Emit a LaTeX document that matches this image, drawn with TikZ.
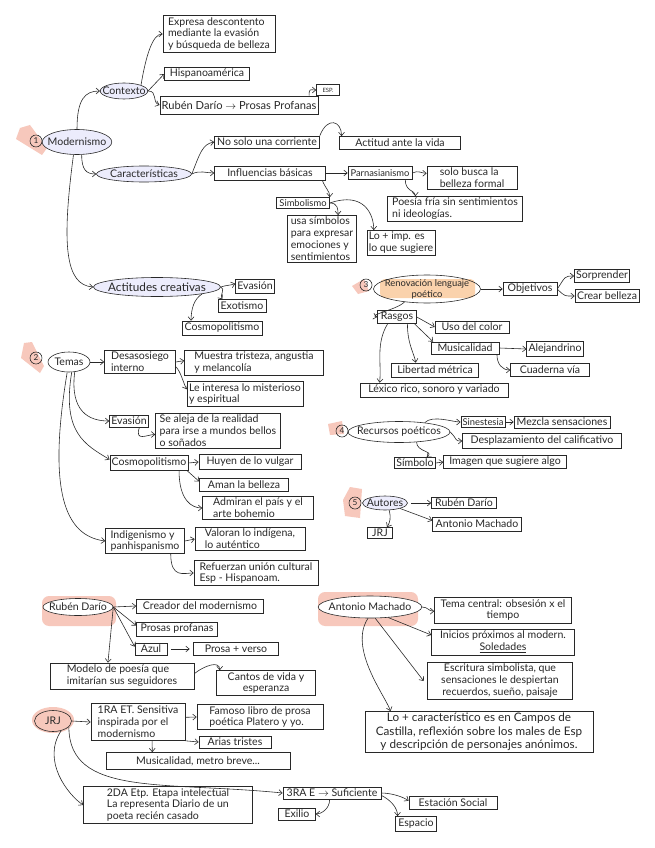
\documentclass[tikz,border=0pt]{standalone}
\usepackage{fontspec}
\setmainfont{Lato}
\usepackage{tikz}
\usetikzlibrary{arrows.meta,shapes.geometric}
\definecolor{rosa}{RGB}{247,200,188}
\definecolor{naranja}{RGB}{250,210,172}
\definecolor{lila}{RGB}{236,236,252}
\definecolor{tinta}{RGB}{40,40,40}

\begin{document}
\begin{tikzpicture}[
    x=0.03cm, y=-0.03cm,
    color=tinta, line width=0.5pt,
    font=\fontsize{9}{10.2}\selectfont,
    caja/.style 2 args={rectangle, draw, inner sep=1.5pt, align=left,
      minimum width=#1*0.03cm, minimum height=#2*0.03cm},
    burbuja/.style 2 args={ellipse, draw, fill=lila, inner xsep=-4pt, inner ysep=0pt,
      align=center, minimum width=#1*0.03cm, minimum height=#2*0.03cm},
    num/.style={circle, draw, inner sep=0pt, minimum size=0.36cm, font=\scriptsize},
    >={Straight Barb[length=3pt,width=5pt]}
  ]
  \fill[white] (0,0) rectangle (655,848);

  \fill[rosa] (20,128) -- (30,125) -- (47,148) -- (42,155) -- (16,139) -- cycle;
  \fill[rosa] (24,343) -- (32,342) -- (44,366) -- (40,373) -- (21,358) -- cycle;
  \fill[rosa] (352,286) -- (364,279) -- (369,291) -- (358,294) -- cycle;
  \fill[rosa] (328,424) -- (342,421) -- (344,434) -- (330,435) -- cycle;
  \fill[rosa] (350,487) -- (362,489) -- (360,518) -- (345,516) -- (343,500) -- cycle;
  \fill[rosa, rounded corners=6] (42,596) rectangle (116,626);
  \fill[rosa, rounded corners=6] (318,592) rectangle (418,626);
  \fill[rosa] (53,720) ellipse [x radius=21, y radius=13];
  \fill[naranja, rounded corners=4] (380,279) rectangle (475,298);

  \node[num] (uno) at (36,141) {1};
  \node[burbuja={62}{25}] (modernismo) at (77,142) {Modernismo};
  \node[burbuja={46}{16}] (contexto) at (124,91) {Contexto};
  \node[caja={112}{36}] (expresa) at (219,34) {Expresa descontento\\mediante la evasión\\y búsqueda de belleza};
  \node[caja={85}{12}] (hispano) at (207,74) {Hispanoamérica};
  \node[caja={149}{18}, font=\fontsize{9.5}{11}\selectfont] (profanas) at (239,105) {Rubén Darío $\rightarrow$ Prosas Profanas};
  \node[caja={23}{11}, font=\tiny] (esp) at (328,90) {ESP.};
  \node[burbuja={95}{16}] (caracteristicas) at (144,174) {Características};
  \node[caja={105}{12}] (nosolo) at (267,142) {No solo una corriente};
  \node[caja={121}{13}] (actitud) at (400,143) {Actitud ante la vida};
  \node[caja={111}{14}] (influencias) at (270,173) {Influencias básicas};
  \node[caja={64}{13}, font=\footnotesize] (parnaso) at (380,173) {Parnasianismo};
  \node[caja={90}{23}] (formal) at (472,178) {solo busca la\\belleza formal};
  \node[caja={135}{20}] (fria) at (455,209) {Poesía fría sin sentimientos\\ni ideologías.};
  \node[caja={53}{11}, font=\footnotesize] (simbolismo) at (303,203) {Simbolismo};
  \node[caja={69}{44}] (simbolos) at (322,239) {usa símbolos\\para expresar\\emociones y\\sentimientos};
  \node[caja={67}{23}] (sugiere) at (401,243) {Lo + imp. es\\lo que sugiere};
  \node[burbuja={127}{19}, font=\fontsize{10}{11}\selectfont] (actitudes) at (157,287) {Actitudes creativas};
  \node[caja={39}{14}] (evasionA) at (255,286) {Evasión};
  \node[caja={48}{13}] (exotismo) at (242,306) {Exotismo};
  \node[caja={80}{14}] (cosmoA) at (222,328) {Cosmopolitismo};

  \node[num] (tres) at (366,285) {3};
  \node[burbuja={107}{28}, fill=none, font=\footnotesize] (renovacion) at (427,289) {Renovación lenguaje\\poético};
  \node[caja={54}{12}] (objetivos) at (530,289) {Objetivos};
  \node[caja={50}{13}] (sorprender) at (602,276) {Sorprender};
  \node[caja={64}{13}] (crear) at (607,296) {Crear belleza};
  \node[caja={39}{12}] (rasgos) at (397,317) {Rasgos};
  \node[caja={74}{12}] (color) at (472,327) {Uso del color};
  \node[caja={68}{12}] (musica) at (465,348) {Musicalidad};
  \node[caja={56}{15}] (alejandrino) at (555,349) {Alejandrino};
  \node[caja={79}{13}] (cuaderna) at (550,370) {Cuaderna vía};
  \node[caja={87}{14}] (libertad) at (435,370) {Libertad métrica};
  \node[caja={148}{14}] (lexico) at (434,390) {Léxico rico, sonoro y variado};

  \node[num] (dos) at (36,358) {2};
  \node[burbuja={42}{20}, fill=white] (temas) at (69,362) {Temas};
  \node[caja={71}{23}] (desasosiego) at (140,362) {Desasosiego\\interno};
  \node[caja={139}{23}] (tristeza) at (254,363) {Muestra tristeza, angustia\\y melancolía};
  \node[caja={116}{24}] (misterio) at (245,394) {Le interesa lo misterioso\\y espiritual};
  \node[caja={39}{12}] (evasionB) at (129,421) {Evasión};
  \node[caja={125}{33}] (aleja) at (218,431) {Se aleja de la realidad\\para irse a mundos bellos\\o soñados};
  \node[caja={78}{15}] (cosmoB) at (149,463) {Cosmopolitismo};
  \node[caja={102}{15}] (vulgar) at (250,462) {Huyen de lo vulgar};
  \node[caja={89}{13}] (belleza) at (244,485) {Aman la belleza};
  \node[caja={111}{20}] (bohemio) at (258,508) {Admiran el país y el\\arte bohemio};
  \node[caja={79}{22}] (indigenismo) at (145,541) {Indigenismo y\\panhispanismo};
  \node[caja={110}{23}] (autentico) at (250,539) {Valoran lo indígena,\\lo auténtico};
  \node[caja={124}{25}] (union) at (256,573) {Refuerzan unión cultural\\Esp - Hispanoam.};

  \node[num] (cuatro) at (342,431) {4};
  \node[burbuja={97}{21}, fill=white, inner xsep=-5pt] (recursos) at (399,432) {Recursos poéticos};
  \node[caja={40}{11}, font=\footnotesize] (sinestesia) at (483,422) {Sinestesia};
  \node[caja={96}{12}] (mezcla) at (562,422) {Mezcla sensaciones};
  \node[caja={159}{15}] (desplaza) at (542,441) {Desplazamiento del calificativo};
  \node[caja={39}{11}] (simbolo) at (415,463) {Símbolo};
  \node[caja={123}{12}] (imagen) at (505,462) {Imagen que sugiere algo};

  \node[num] (cinco) at (355,503) {5};
  \node[burbuja={45}{14}] (autores) at (385,503) {Autores};
  \node[caja={65}{11}] (autRuben) at (464,503) {Rubén Darío};
  \node[caja={89}{14}] (autMachado) at (477,524) {Antonio Machado};
  \node[caja={25}{11}] (autJrj) at (380,533) {JRJ};

  \node[burbuja={70}{17}, fill=white] (dario) at (78,607) {Rubén Darío};
  \node[caja={127}{14}] (creador) at (200,606) {Creador del modernismo};
  \node[caja={81}{14}] (prosas) at (177,629) {Prosas profanas};
  \node[caja={32}{12}] (azul) at (151,649) {Azul};
  \node[caja={85}{13}] (prosaverso) at (236,649) {Prosa + verso};
  \node[caja={144}{26}] (modelo) at (122,676) {Modelo de poesía que\\imitarían sus seguidores};
  \node[caja={99}{25}, align=center] (cantos) at (266,683) {Cantos de vida y\\esperanza};

  \node[burbuja={37}{21}, fill=rosa] (jrj) at (53,721) {JRJ};
  \node[caja={94}{37}] (primera) at (138,722) {1RA ET. Sensitiva\\inspirada por el\\modernismo};
  \node[caja={126}{24}] (platero) at (260,717) {Famoso libro de prosa\\poética Platero y yo.};
  \node[caja={72}{12}] (arias) at (235,742) {Arias tristes};
  \node[caja={184}{17}] (breve) at (198,761) {Musicalidad, metro breve...};
  \node[caja={169}{36}] (segunda) at (168,805) {2DA Etp. Etapa intelectual\\La representa Diario de un\\poeta recién casado};
  \node[caja={98}{12}] (tercera) at (332,793) {3RA E $\rightarrow$ Suficiente};
  \node[caja={37}{12}] (exilio) at (297,814) {Exilio};
  \node[caja={88}{13}] (estacion) at (453,803) {Estación Social};
  \node[caja={41}{15}] (espacio) at (416,824) {Espacio};

  \node[burbuja={99}{22}, fill=white] (machado) at (370,607) {Antonio Machado};
  \node[caja={137}{26}, align=center] (tiempo) at (503,610) {Tema central: obsesión x el\\tiempo};
  \node[caja={143}{24}, align=center] (soledades) at (503,642) {Inicios próximos al modern.\\\underline{Soledades}};
  \node[caja={145}{35}, align=center] (escritura) at (500,681) {Escritura simbolista, que\\sensaciones le despiertan\\recuerdos, sueño, paisaje};
  \node[caja={228}{41}, align=center, font=\fontsize{10}{11.5}\selectfont] (castilla) at (479,732) {Lo + característico es en Campos de\\Castilla, reflexión sobre los males de Esp\\y descripción de personajes anónimos.};

  \draw[->] (modernismo.north) .. controls +(0,-30) and +(-15,0) .. (contexto.west);
  \draw[->] (contexto.north east) .. controls +(5,-30) and +(-10,0) .. (expresa.west);
  \draw[->] (contexto.east) -- (hispano.west);
  \draw[->] (contexto.east) .. controls +(10,0) and +(-8,-3) .. (profanas.west);
  \draw[->] ([xshift=-8pt]profanas.north east) .. controls +(0,-8) and +(-6,0) .. (esp.west);
  \draw[->] ([xshift=4pt]modernismo.south) .. controls +(0,15) and +(-10,0) .. (caracteristicas.west);
  \draw[->] (caracteristicas.east) .. controls +(8,-20) and +(-12,2) .. (nosolo.west);
  \draw[->] (caracteristicas.east) .. controls +(8,-4) and +(-8,0) .. (influencias.west);
  \draw[->] (nosolo.north east) .. controls +(8,-20) and +(0,-15) .. ([xshift=2pt]actitud.north west);
  \draw[->] (influencias.east) -- (parnaso.west);
  \draw[->] ([xshift=-3pt]influencias.south east) .. controls +(3,8) and +(0,-6) .. (simbolismo.north east);
  \draw[->] (parnaso.east) .. controls +(6,-3) and +(-5,0) .. ([yshift=4pt]formal.west);
  \draw[->] ([xshift=-6pt]parnaso.south east) .. controls +(0,12) and +(0,-6) .. ([xshift=24pt]fria.north west);
  \draw[->] (simbolismo.east) .. controls +(8,0) and +(0,-6) .. ([xshift=-16pt]simbolos.north east);
  \draw[->] (simbolismo.east) .. controls +(35,-12) and +(0,-15) .. ([xshift=6pt]sugiere.north west);
  \draw[->] ([xshift=-3pt]modernismo.south) .. controls +(-12,90) and +(-28,-2) .. (actitudes.west);
  \draw[->] (actitudes.east) .. controls +(6,-2) and +(-6,2) .. ([yshift=2pt]evasionA.west);
  \draw[->] (actitudes.east) .. controls +(5,2) and +(-3,-4) .. ([xshift=4pt]exotismo.north west);
  \draw[->] (actitudes.south east) .. controls +(-8,5) and +(0,-12) .. ([xshift=8pt]cosmoA.north west);

  \draw[->] (renovacion.east) -- (objetivos.west);
  \draw[->] (objetivos.east) .. controls +(8,-12) and +(-10,0) .. (sorprender.west);
  \draw[->] (objetivos.east) .. controls +(8,8) and +(-10,0) .. (crear.west);
  \draw[->] (renovacion.210) .. controls +(-8,8) and +(-10,-2) .. (rasgos.west);
  \draw[->] (rasgos.east) -- (color.west);
  \draw[->] ([xshift=-2pt]rasgos.south east) -- ([xshift=2pt]musica.north west);
  \draw[->] ([xshift=-8pt]rasgos.south east) .. controls +(0,20) and +(-2,-10) .. ([xshift=21pt]libertad.north west);
  \draw[->] ([xshift=-8pt]rasgos.south) .. controls +(-12,20) and +(2,-20) .. ([xshift=17pt]lexico.north west);
  \draw[->] (musica.east) -- (alejandrino.west);
  \draw[->] ([xshift=-2pt]musica.south east) .. controls +(0,10) and +(-8,0) .. (cuaderna.west);

  \draw[->] (temas.east) -- (desasosiego.west);
  \draw[->] (desasosiego.east) -- ([yshift=2pt]tristeza.west);
  \draw[->] ([yshift=-4pt]desasosiego.east) .. controls +(5,5) and +(-4,-8) .. ([yshift=4pt]misterio.west);
  \draw[->] (temas.-60) .. controls +(-5,40) and +(-20,0) .. (evasionB.west);
  \draw[->] ([xshift=-8pt]evasionB.south east) .. controls +(-5,15) and +(-8,0) .. ([yshift=-3pt]aleja.west);
  \draw[->] (temas.-75) .. controls +(-10,60) and +(-25,-15) .. ([yshift=3pt]cosmoB.west);
  \draw[->] (cosmoB.east) -- (vulgar.west);
  \draw[->] ([xshift=-1pt]cosmoB.south east) -- ([yshift=3pt]belleza.west);
  \draw[->] ([xshift=-8pt]cosmoB.south east) .. controls +(0,30) and +(-10,0) .. (bohemio.west);
  \draw[->] (temas.-100) .. controls +(-20,120) and +(-40,-5) .. (indigenismo.west);
  \draw[->] (indigenismo.east) -- (autentico.west);
  \draw[->] ([xshift=-12pt]indigenismo.south east) .. controls +(0,25) and +(-10,0) .. (union.west);

  \draw[->] (recursos.20) .. controls +(8,-8) and +(-8,0) .. (sinestesia.west);
  \draw[->] (recursos.east) .. controls +(8,8) and +(-8,0) .. (desplaza.west);
  \draw[->] (recursos.-30) .. controls +(0,10) and +(8,-6) .. ([xshift=10pt]simbolo.north);
  \draw[->] (sinestesia.east) -- (mezcla.west);
  \draw[->] (simbolo.east) -- (imagen.west);

  \draw[->, shorten <=3pt] (autores.east) -- (autRuben.west);
  \draw[->] (autores.-20) -- ([yshift=3pt]autMachado.west);
  \draw[->] (autores.-60) .. controls +(2,8) and +(3,-5) .. ([xshift=6pt]autJrj.north);

  \draw[->] (dario.east) -- (creador.west);
  \draw[->] (dario.east) -- ([yshift=3pt]prosas.west);
  \draw[->] (dario.east) -- ([yshift=2pt]azul.west);
  \draw[->] (dario.east) -- ([xshift=-12pt]modelo.north);
  \draw[->, shorten <=3pt, shorten >=3pt] (azul.east) -- (prosaverso.west);
  \draw[->] ([yshift=2pt]modelo.east) .. controls +(10,-8) and +(0,-10) .. ([xshift=3pt]cantos.north west);

  \draw[->] (jrj.east) -- (primera.west);
  \draw[->] ([yshift=4pt]primera.east) -- (platero.west);
  \draw[->] (primera.south east) -- (arias.west);
  \draw[->] ([xshift=12pt]primera.south) -- ([xshift=-39pt]breve.north);
  \draw[->] (jrj.-50) .. controls +(-20,30) and +(-15,-10) .. (segunda.west);
  \draw[->] (jrj.-20) .. controls +(0,70) and +(-120,-12) .. (tercera.west);
  \draw[->] ([xshift=-2pt]tercera.south) .. controls +(0,10) and +(5,0) .. (exilio.east);
  \draw[->] (tercera.east) .. controls +(8,0) and +(-8,-5) .. ([yshift=2pt]estacion.west);
  \draw[->] ([yshift=-2pt]tercera.east) .. controls +(10,5) and +(0,-8) .. ([xshift=2pt]espacio.north west);

  \draw[->] (machado.east) .. controls +(6,0) and +(-6,0) .. ([yshift=-1pt]tiempo.west);
  \draw[->] (machado.-30) -- ([yshift=6pt]soledades.west);
  \draw[->] (machado.-65) -- ([xshift=-3pt]escritura.west);
  \draw[->] (machado.-100) .. controls +(-20,30) and +(-5,-15) .. ([xshift=22pt]castilla.north west);
\end{tikzpicture}
\end{document}
